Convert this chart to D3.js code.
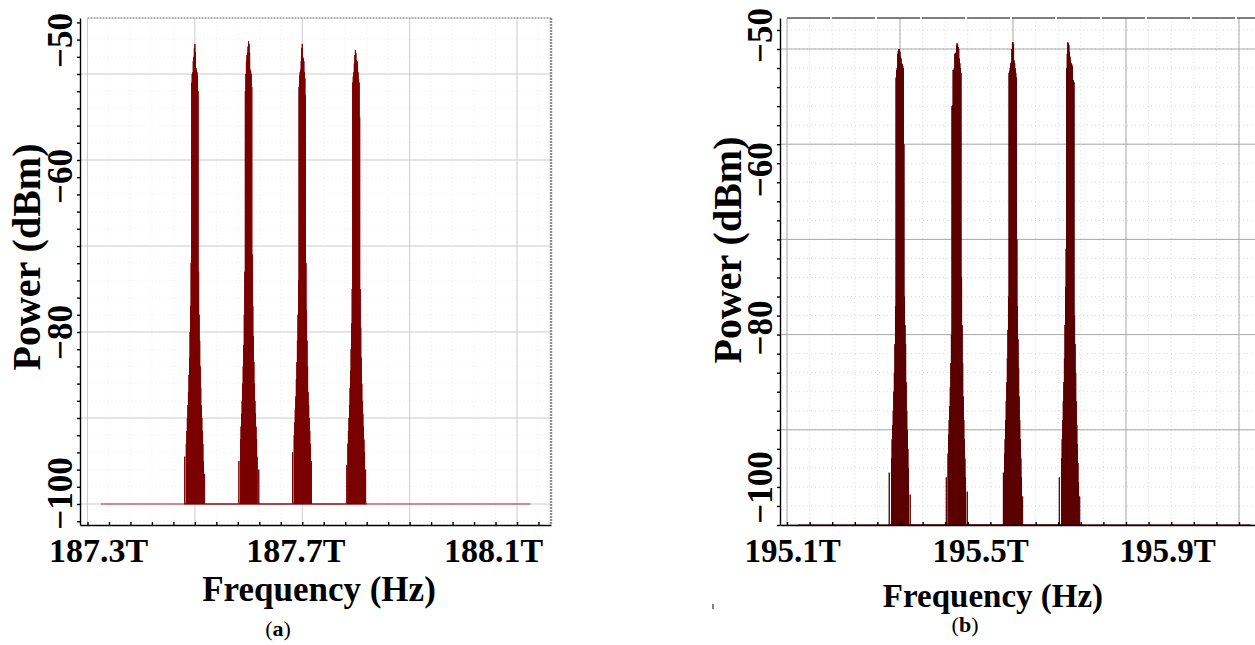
<!DOCTYPE html>
<html>
<head>
<meta charset="utf-8">
<script src="https://cdn.jsdelivr.net/npm/d3@7"></script>
<style>
body { margin: 0; background: #fff; }
svg { display: block; }
text { font-family: "Liberation Serif", "Times New Roman", serif; font-weight: bold; fill: #000; }
</style>
</head>
<body>
<svg id="chart" width="1255" height="645"></svg>
<script>
// sample offsets around each carrier, GHz
const offsets = d3.range(-20, 21);
const floorLevel = -100;

// (a) carriers, THz
const chanA = [187.5, 187.6, 187.7, 187.8];
const floorA = [187.325, 188.125];
const powA1 = [-100, -94.5, -100, -100, -93, -91.5, -90, -88.5, -87, -85, -83, -80, -77, -72, -51, -50, -49.8, -48.5, -48, -47, -46.5, -47.5, -49.3, -49.5, -49.8, -50.2, -52, -73, -78, -81, -84, -86.5, -88.5, -90, -91.5, -93, -95, -100, -96.5, -100, -100];
const powA2 = [-100, -100, -95, -100, -100, -92.5, -91, -89.5, -88, -86, -84, -81.5, -78, -73, -52, -50, -48.5, -47.8, -47.5, -46.8, -46.2, -46.5, -47.5, -49.5, -49.7, -50, -51.5, -71, -77, -80.5, -83.5, -86, -88, -89.5, -91, -92.5, -94.5, -100, -100, -96, -100];
const powA3 = [-100, -100, -94, -100, -100, -92, -90.5, -89, -87.5, -85.5, -83.5, -81, -78, -74, -51.5, -50.2, -49.8, -49.5, -48.5, -47, -46.5, -48, -48.2, -48.5, -49.8, -50.5, -52.5, -72, -77.5, -81, -84, -87, -88.5, -90, -91.5, -93, -100, -95, -100, -100, -100];
const powA4 = [-100, -100, -100, -95.5, -100, -93, -91.5, -90, -88.5, -86.5, -84.5, -82, -79, -75, -51, -50.3, -49.8, -48.8, -47.8, -47.2, -47.6, -48.4, -48.5, -48.6, -49.8, -50.6, -51, -55, -75, -79.5, -83, -86, -88, -89.5, -91, -92.5, -94, -100, -96, -100, -100];

// (b) carriers, THz
const chanB = [195.3, 195.4, 195.5, 195.6];
const floorB = [195.12, 195.92];
const powB1 = [-100, -94.5, -100, -100, -100, -93, -91, -89.5, -88, -86, -84, -81, -77, -53, -52.2, -52, -50.5, -50.2, -50, -50, -50.3, -50.8, -51, -51.5, -51.6, -51.8, -52, -60, -76, -79, -81, -85, -88, -90, -92, -94, -100, -100, -96.8, -100, -100];
const powB2 = [-100, -100, -95, -100, -100, -92.5, -90.5, -89, -87.5, -85.5, -83, -80, -56, -55.9, -52.2, -52.2, -52, -50.5, -50.5, -50.4, -49.6, -49.4, -49.5, -49.8, -50, -51, -51.5, -52, -52.5, -74, -79, -83, -86.5, -89, -91, -93, -95, -100, -100, -96.5, -100];
const powB3 = [-100, -100, -100, -94.5, -100, -92.5, -91, -89, -87, -85, -82.5, -79.5, -76, -52.5, -52.3, -52, -51.5, -51.4, -50, -49.3, -49.3, -49.5, -51.2, -51.5, -52, -52.5, -53, -70, -77, -80.5, -83.5, -86.5, -89, -91, -93, -95, -100, -97, -100, -100, -100];
const powB4 = [-100, -100, -95, -100, -100, -100, -93, -91, -89, -87, -85, -82.5, -79, -75, -71, -52, -50.5, -49.3, -49.4, -49.6, -50.3, -50.8, -51.2, -51.5, -51.6, -51.8, -53.3, -53.3, -53.5, -78, -81, -84, -87, -89.5, -91.5, -93.5, -95.5, -100, -97, -100, -100];

const xTickValsA = [187.3, 187.7, 188.1];
const xTickValsB = [195.1, 195.5, 195.9];
const yTickVals = [-50, -60, -80, -100];

const panels = [
	{
		baseX: d3.scaleLinear().domain([187.3, 188.1]).range([87.5, 517]),
		baseY: d3.scaleLinear().domain([-100, -60]).range([504, 160]),
		box: {left: 80, right: 551, top: 18, bottom: 525},
		chans: chanA, pows: [powA1, powA2, powA3, powA4], floor: floorA, xTicks: xTickValsA,
		xShift: [10.5, -7, -24], yShift: [-34, 16, 0, -11], tickSize: 34,
		color: '#7c0000', floorColor: '#b3303b', grid: '#cdcdcd', minor: '#ececec',
		topStroke: '#9a9a9a', topDash: '2,1', rightBorder: true,
		xTitle: {x: 319, y: 601, size: 35}, yTitle: {x: 26, y: 257}, caption: {x: 278, y: 636, letter: 'a'}
	},
	{
		baseX: d3.scaleLinear().domain([195.1, 195.9]).range([787, 1239]),
		baseY: d3.scaleLinear().domain([-100, -50]).range([525, 49]),
		box: {left: 780, right: 1255, top: 18, bottom: 525},
		chans: chanB, pows: [powB1, powB2, powB3, powB4], floor: floorB, xTicks: xTickValsB,
		xShift: [5, -33, -72], yShift: [-14, 25, -7, -38], tickSize: 33,
		color: '#5c0000', floorColor: '#5c0000', grid: '#a9a9a9', minor: '#d9d9d9',
		topStroke: '#555', topDash: '43,2', rightBorder: false,
		xTitle: {x: 993, y: 607, size: 33}, yTitle: {x: 727, y: 250}, caption: {x: 965, y: 632, letter: 'b'}
	}
];

const svg = d3.select('#chart');

panels.forEach(drawPanel);

// stray mark left of caption (b)
svg.append('line').attr('x1', 713).attr('x2', 713).attr('y1', 604).attr('y2', 609).attr('stroke', '#333').attr('stroke-width', 1.2);

function drawPanel(p) {
	let box	= p.box;
	let x	= d3.scaleLinear().domain([p.baseX.invert(box.left), p.baseX.invert(box.right)]).range([box.left, box.right]);
	let y	= d3.scaleLinear().domain([p.baseY.invert(box.bottom), p.baseY.invert(box.top)]).range([box.bottom, box.top]);

	let x0		= p.baseX.domain()[0];
	let xMax	= x.domain()[1];
	let yMin	= y.domain()[0], yMax = y.domain()[1];

	let minorX	= d3.range(x0, xMax, 0.04);
	let majorX	= d3.range(x0, xMax, 0.2);
	let minorY	= d3.range(Math.ceil(yMin / 2) * 2, yMax, 2);
	let majorY	= d3.range(-100, yMax, 10);

	let g = svg.append('g');

	// minor dotted grid
	g.append('g').selectAll('line').data(minorX).join('line')
		.attr('x1', d => x(d)).attr('x2', d => x(d)).attr('y1', box.top).attr('y2', box.bottom)
		.attr('stroke', p.minor).attr('stroke-dasharray', '1,3');
	g.append('g').selectAll('line').data(minorY).join('line')
		.attr('x1', x(x0)).attr('x2', box.right).attr('y1', d => y(d)).attr('y2', d => y(d))
		.attr('stroke', p.minor).attr('stroke-dasharray', '1,3');

	// major grid
	g.append('g').selectAll('line').data(majorX).join('line')
		.attr('x1', d => x(d)).attr('x2', d => x(d)).attr('y1', box.top).attr('y2', box.bottom)
		.attr('stroke', p.grid);
	g.append('g').selectAll('line').data(majorY).join('line')
		.attr('x1', box.left).attr('x2', box.right).attr('y1', d => y(d)).attr('y2', d => y(d))
		.attr('stroke', p.grid);

	// frame
	g.append('line').attr('x1', x(x0)).attr('x2', box.right).attr('y1', box.top).attr('y2', box.top)
		.attr('stroke', p.topStroke).attr('stroke-width', 1.6).attr('stroke-dasharray', p.topDash);
	if (p.rightBorder) {
		g.append('line').attr('x1', box.right).attr('x2', box.right).attr('y1', box.top).attr('y2', box.bottom)
			.attr('stroke', '#8e8e8e').attr('stroke-width', 2.5).attr('stroke-dasharray', '2,1');
	}

	// spectrum
	let line = d3.line().x(d => x(d[0])).y(d => y(d[1]));

	g.append('path').attr('d', line(p.floor.map(f => [f, floorLevel])))
		.attr('fill', 'none').attr('stroke', p.floorColor).attr('stroke-width', 1.2);

	let pts = [];
	p.chans.forEach((c, k) => {
		offsets.forEach((o, i) => {
			let f = c + o / 1000;
			pts.push([f, floorLevel], [f, p.pows[k][i]], [f, floorLevel]);
		});
	});
	g.append('path').attr('d', line(pts))
		.attr('fill', 'none').attr('stroke', p.color).attr('stroke-width', 1).attr('stroke-linejoin', 'miter');

	// axes with minor ticks
	g.append('g').attr('transform', 'translate(0,' + box.bottom + ')')
		.call(d3.axisBottom(x).tickValues(minorX).tickSize(-3).tickSizeOuter(0).tickFormat(''))
		.call(a => a.selectAll('path, line').attr('stroke', '#000').attr('stroke-width', 1.4));
	g.append('g').attr('transform', 'translate(' + box.left + ',0)')
		.call(d3.axisLeft(y).tickValues(minorY).tickSize(3).tickSizeOuter(0).tickFormat(''))
		.call(a => a.selectAll('path, line').attr('stroke', '#000').attr('stroke-width', 1.4));

	// tick labels
	let xl = g.append('g').attr('transform', 'translate(0,' + box.bottom + ')')
		.call(d3.axisBottom(x).tickValues(p.xTicks).tickSize(0).tickFormat(d => d.toFixed(1) + 'T'));
	xl.select('.domain').remove();
	xl.selectAll('text').attr('y', 37).attr('dy', null).attr('dx', (d, i) => p.xShift[i])
		.style('font-size', p.tickSize + 'px');

	let yl = g.append('g').attr('transform', 'translate(' + box.left + ',0)')
		.call(d3.axisLeft(y).tickValues(yTickVals).tickSize(0).tickFormat(d => '\u2212' + Math.abs(d)));
	yl.select('.domain').remove();
	yl.selectAll('text').attr('x', 0).attr('dy', '0.35em').attr('text-anchor', 'middle')
		.attr('transform', (d, i) => 'translate(-20,' + p.yShift[i] + ') rotate(-90)')
		.style('font-size', '35px');

	// titles
	g.append('text').attr('x', p.xTitle.x).attr('y', p.xTitle.y).attr('text-anchor', 'middle')
		.style('font-size', p.xTitle.size + 'px').text('Frequency (Hz)');
	g.append('text').attr('transform', 'translate(' + p.yTitle.x + ',' + p.yTitle.y + ') rotate(-90)')
		.attr('dy', '0.35em').attr('text-anchor', 'middle').style('font-size', '40px').text('Power (dBm)');

	let cap = g.append('text').attr('x', p.caption.x).attr('y', p.caption.y).attr('text-anchor', 'middle')
		.style('font-size', '22px').style('font-weight', 'normal');
	cap.append('tspan').text('(');
	cap.append('tspan').style('font-weight', 'bold').text(p.caption.letter);
	cap.append('tspan').text(')');
}
</script>
</body>
</html>
